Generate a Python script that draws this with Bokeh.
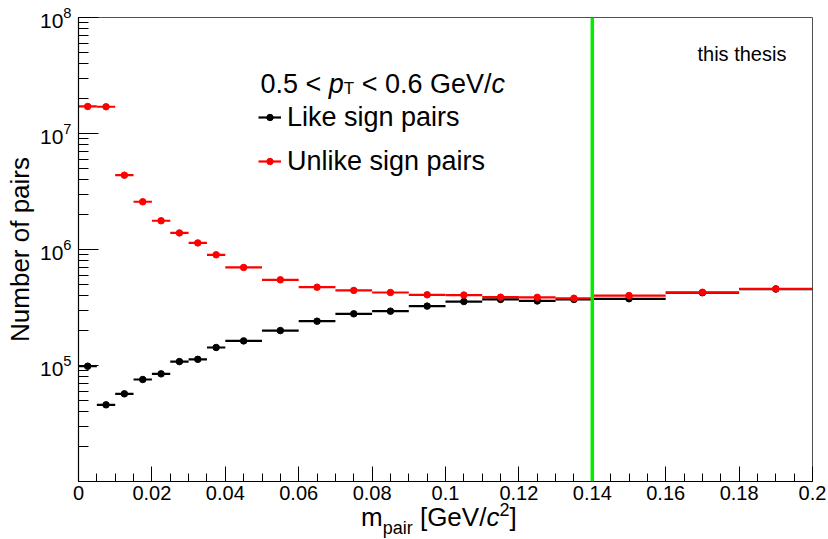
import math
from bokeh.plotting import figure
from bokeh.layouts import column
from bokeh.models import (Label, Span, Legend, LegendItem, LogTicker, LogTickFormatter, Div,
                          SingleIntervalTicker, CustomJSTickFormatter, ColumnDataSource)
from bokeh.embed import file_html
from bokeh.resources import INLINE

# ---------------- data ----------------
bin_edges = [0.0, 0.005, 0.01, 0.015, 0.02, 0.025, 0.03, 0.035, 0.04,
             0.05, 0.06, 0.07, 0.08, 0.09, 0.10, 0.11, 0.12, 0.13, 0.14,
             0.16, 0.18, 0.20]
like_counts = [9.86e4, 4.58e4, 5.70e4, 7.57e4, 8.47e4, 1.08e5, 1.13e5, 1.43e5,
               1.63e5, 2.00e5, 2.41e5, 2.79e5, 2.94e5, 3.25e5, 3.56e5, 3.71e5,
               3.60e5, 3.71e5, 3.76e5, 4.24e5, 4.56e5]
unlike_counts = [1.71e7, 1.70e7, 4.37e6, 2.58e6, 1.77e6, 1.39e6, 1.14e6, 9.0e5,
                 7.0e5, 5.48e5, 4.73e5, 4.44e5, 4.26e5, 4.07e5, 4.05e5, 3.88e5,
                 3.87e5, 3.80e5, 4.01e5, 4.28e5, 4.58e5]
hidden_y_tick = 1e4
pion_mass_cut = 0.14
series_names = ["Like sign pairs", "Unlike sign pairs"]

# ---------------- geometry / style ----------------
W = 828
FIG_H = 511
TITLE_H = 28
B_LEFT, B_RIGHT, B_TOP, B_BOTTOM = 78, 16, 17, 30
FRAME_BOTTOM = FIG_H - B_BOTTOM
FONT = "Liberation Sans"

p = figure(width=W, height=FIG_H, x_range=(0.0, 0.2), y_range=(1e4, 1e8),
           y_axis_type="log", output_backend="svg", toolbar_location=None,
           min_border_left=B_LEFT, min_border_right=B_RIGHT,
           min_border_top=B_TOP, min_border_bottom=B_BOTTOM)
p.background_fill_color = "white"
p.border_fill_color = "white"
p.outline_line_color = "#505050"
p.outline_line_width = 1
p.xgrid.visible = False
p.ygrid.visible = False

# x axis
xa = p.xaxis[0]
xa.ticker = SingleIntervalTicker(interval=0.02, num_minor_ticks=4)
xa.formatter = CustomJSTickFormatter(code="return String(Number(tick.toFixed(4)));")
xa.major_tick_in = 15
xa.major_tick_out = 0
xa.minor_tick_in = 8
xa.minor_tick_out = 0
xa.axis_line_color = "black"
xa.axis_line_width = 1.2
xa.major_tick_line_color = "black"
xa.minor_tick_line_color = "black"
xa.major_label_text_font = FONT
xa.major_label_text_font_size = "20px"
xa.major_label_text_color = "black"
xa.major_label_standoff = 4

# y axis
ya = p.yaxis[0]
ya.ticker = LogTicker(num_minor_ticks=10)
ya.formatter = LogTickFormatter()
ya.major_label_overrides = {hidden_y_tick: ""}
ya.major_tick_in = 20
ya.major_tick_out = 0
ya.minor_tick_in = 10
ya.minor_tick_out = 0
ya.axis_line_color = "black"
ya.axis_line_width = 1.2
ya.major_tick_line_color = "black"
ya.minor_tick_line_color = "black"
ya.major_label_text_font = FONT
ya.major_label_text_font_size = "21px"
ya.major_label_text_color = "black"
ya.major_label_standoff = 7
ya.axis_label = "Number of pairs"
ya.axis_label_text_font = FONT
ya.axis_label_text_font_size = "26px"
ya.axis_label_text_font_style = "normal"
ya.axis_label_text_color = "black"
ya.axis_label_standoff = 2

# ---------------- data marks ----------------
lo = bin_edges[:-1]
hi = bin_edges[1:]
centers = [(a + b) / 2 for a, b in zip(lo, hi)]

src_like = ColumnDataSource(dict(lo=lo, hi=hi, x=centers, y=like_counts))
src_unlike = ColumnDataSource(dict(lo=lo, hi=hi, x=centers, y=unlike_counts))

seg_like = p.segment(x0="lo", x1="hi", y0="y", y1="y", source=src_like,
                     line_color="black", line_width=2.2)
dot_like = p.scatter(x="x", y="y", source=src_like, size=6.5, marker="circle",
                     fill_color="black", line_color="black")
seg_unlike = p.segment(x0="lo", x1="hi", y0="y", y1="y", source=src_unlike,
                       line_color="#ff0000", line_width=2.2)
dot_unlike = p.scatter(x="x", y="y", source=src_unlike, size=6.5, marker="circle",
                       fill_color="#ff0000", line_color="#ff0000")

p.add_layout(Span(location=pion_mass_cut, dimension="height",
                  line_color="#00ee00", line_width=3.5))

# ---------------- text inside the frame ----------------
ADV = {"m": .833, "p": .556, "a": .556, "i": .222, "r": .333, " ": .278,
       "[": .278, "G": .778, "e": .556, "V": .667, "/": .278, "c": .5,
       "2": .556, "]": .278, "0": .556, ".": .278, "5": .556, "<": .584,
       "T": .611, "6": .556}


def adv(text, size):
    return sum(ADV.get(ch, .556) for ch in text) * size


def put(text, X, Y, size, style="normal", align="left", baseline="alphabetic"):
    """X, Y are canvas pixels from the top-left; converted to frame-relative screen units."""
    p.add_layout(Label(x=X - B_LEFT, y=FRAME_BOTTOM - Y, x_units="screen", y_units="screen",
                       text=text, text_font=FONT, text_font_size=f"{size}px",
                       text_font_style=style, text_color="black", text_align=align,
                       text_baseline=baseline))


def put_run(pieces, X, size_big, base_y):
    """pieces: (text, style, role) with role in normal/sub/sup; leading spaces become offsets."""
    small = round(size_big * 0.64)
    for text, style, role in pieces:
        size = size_big if role == "normal" else small
        lead = len(text) - len(text.lstrip(" "))
        X += lead * ADV[" "] * size
        body = text.strip(" ")
        dy = {"normal": 0, "sub": 4, "sup": -10}[role]
        put(body, X, base_y + dy, size, style=style)
        X += adv(body, size)
        X += (len(text.rstrip(" ")) != len(text)) * ADV[" "] * size


# header: 0.5 < p_T < 0.6 GeV/c
put_run([("0.5 < ", "normal", "normal"), ("p", "italic", "normal"), ("T", "normal", "sub"),
         (" < 0.6 GeV/", "normal", "normal"), ("c", "italic", "normal")], 260, 27, 83.5)

# this thesis
put("this thesis", 697, 53, 20)

# ---------------- legend ----------------
legend = Legend(items=[LegendItem(label=series_names[0], renderers=[seg_like, dot_like]),
                       LegendItem(label=series_names[1], renderers=[seg_unlike, dot_unlike])],
                location=(258 - B_LEFT, FRAME_BOTTOM - 177),
                orientation="vertical", padding=0, margin=0, spacing=12,
                glyph_width=23, glyph_height=16, label_height=32, label_standoff=6,
                label_text_font=FONT, label_text_font_size="27px", label_text_color="black",
                border_line_color=None, background_fill_alpha=0.0)
p.add_layout(legend, "center")

# ---------------- x axis title (needs sub/superscript) ----------------
x_title_html = (
    '<div style="margin-left:361px; font-family:\'Liberation Sans\', Arial, sans-serif; '
    'font-size:26px; line-height:12px; white-space:nowrap; color:black;">'
    'm<span style="font-size:18px; position:relative; top:8px;">pair</span> '
    '[GeV/<i>c</i><span style="font-size:18px; position:relative; top:-10px;">2</span>]'
    '</div>'
)
x_title = Div(text=x_title_html, width=W, height=TITLE_H, margin=(0, 0, 0, 0))

layout = column(p, x_title, spacing=0)
open("out.html", "w").write(file_html(layout, INLINE))
